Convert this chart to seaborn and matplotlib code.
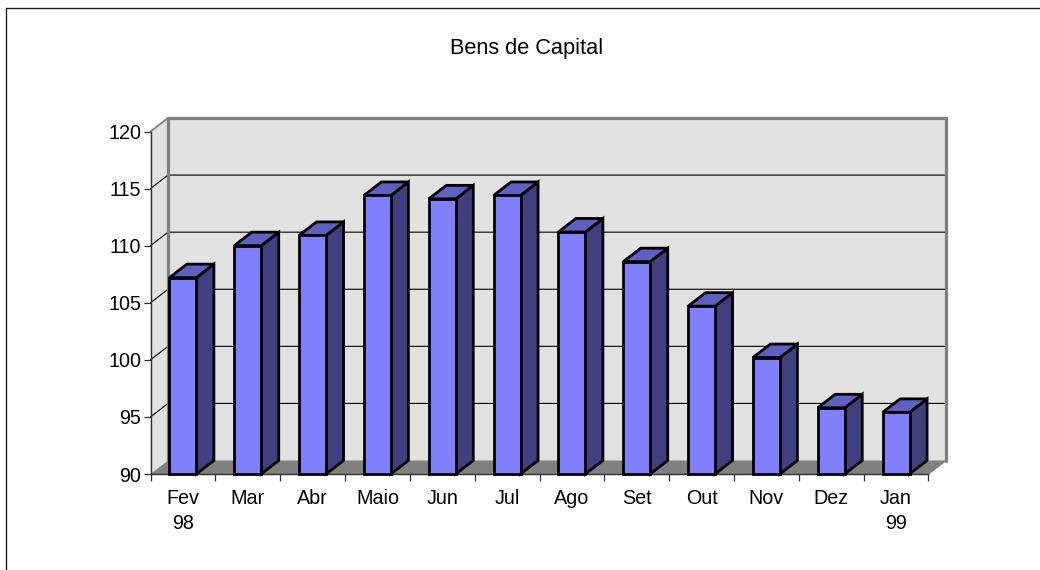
import matplotlib
matplotlib.use("Agg")
import matplotlib.pyplot as plt
from matplotlib.lines import Line2D
import seaborn as sns
import numpy as np

title = "Bens de Capital"
months = ["Fev\n98", "Mar", "Abr", "Maio", "Jun", "Jul", "Ago", "Set", "Out", "Nov", "Dez", "Jan\n99"]
values = [107.2, 110.0, 110.9, 114.4, 114.1, 114.4, 111.2, 108.6, 104.7, 100.2, 95.8, 95.4]
y_ticks = [90, 95, 100, 105, 110, 115, 120]

sns.set_theme(style="white")
plt.rcParams["font.family"] = ["Liberation Sans", "DejaVu Sans"]

W, H = 1040, 570
fig = plt.figure(figsize=(W / 100, H / 100), dpi=100)
ax = fig.add_axes([150.5 / W, 1 - 474 / H, 778 / W, 342.5 / H])
ax.patch.set_visible(False)

sns.barplot(x=months, y=values, color="#8080ff", saturation=1, width=0.416,
            edgecolor="black", linewidth=2.0, ax=ax, zorder=3)

ax.set_xlim(-0.5, 11.5)
ax.set_ylim(90, 120)

# depth of the fake 3d box, in data units
dx = 17.5 / (778 / 12)
dy = 13.5 / (342.5 / 30)
x0, x1 = -0.5, 11.5
y0, y1 = 90, 120
wall = "#e2e2e2"
border = "#808080"

# walls and floor
ax.fill([x0 + dx, x1 + dx, x1 + dx, x0 + dx], [y0 + dy, y0 + dy, y1 + dy, y1 + dy],
        color=wall, lw=0, zorder=0.5, clip_on=False)
ax.fill([x0, x0 + dx, x0 + dx, x0], [y0, y0 + dy, y1 + dy, y1],
        color=wall, lw=0, zorder=0.5, clip_on=False)
ax.fill([x0, x1, x1 + dx, x0 + dx], [y0, y0, y0 + dy, y0 + dy],
        color=border, lw=0, zorder=0.8, clip_on=False)

# gridlines on the back wall and the side wall
for t in y_ticks[1:-1]:
    ax.plot([x0, x0 + dx, x1 + dx], [t, t + dy, t + dy], color="black", lw=0.8,
            zorder=0.7, clip_on=False, solid_joinstyle="miter")

ax.plot([x0 + dx, x0 + dx, x1 + dx, x1 + dx], [y0 + dy, y1 + dy, y1 + dy, y0 + dy],
        color=border, lw=2.3, zorder=1, clip_on=False, solid_joinstyle="miter")
ax.plot([x0, x0 + dx], [y1, y1 + dy], color=border, lw=1.3, zorder=1, clip_on=False)
ax.plot([x1, x1 + dx], [y0, y0 + dy], color=border, lw=1.0, zorder=1, clip_on=False)

# bars: front from seaborn, side and top derived from the same values
for i, (bar, v) in enumerate(zip(ax.patches[:len(values)], values)):
    bar.set_y(y0)
    bar.set_height(v - y0)
    bar.set_clip_on(False)
    left = bar.get_x()
    right = left + bar.get_width()
    ax.fill([right, right + dx, right + dx, right], [y0, y0 + dy, v + dy, v],
            facecolor="#404080", edgecolor="black", lw=2.0, zorder=2.8, clip_on=False,
            joinstyle="miter")
    ax.fill([left, left + dx, right + dx, right], [v, v + dy, v + dy, v],
            facecolor="#6060c0", edgecolor="black", lw=2.0, zorder=2.8, clip_on=False,
            joinstyle="miter")

sns.despine(ax=ax, top=True, right=True)
for s in ["left", "bottom"]:
    ax.spines[s].set_color("#303030")
    ax.spines[s].set_linewidth(1.0)

ax.set_yticks(y_ticks)
ax.set_xticks(np.arange(13) - 0.5, minor=True)
ax.tick_params(axis="x", which="minor", bottom=True, length=5, width=0.9, color="#303030")
ax.tick_params(axis="x", which="major", bottom=False, pad=4.5, labelsize=14.2, labelcolor="black")
ax.tick_params(axis="y", left=True, length=5, width=0.9, color="#303030", pad=1.5,
               labelsize=14.2, labelcolor="black")
for lab in ax.get_xticklabels():
    lab.set_linespacing(1.43)

fig.text(527 / W, 1 - 48.5 / H, title, ha="center", va="center", fontsize=15.7, color="black")

# outer frame, cut by the edge of the picture
fig.add_artist(Line2D([6 / W, 6 / W, 1], [0, 1 - 8 / H, 1 - 8 / H], color="#202020", lw=1.0))

fig.savefig("out.png", dpi=100)
